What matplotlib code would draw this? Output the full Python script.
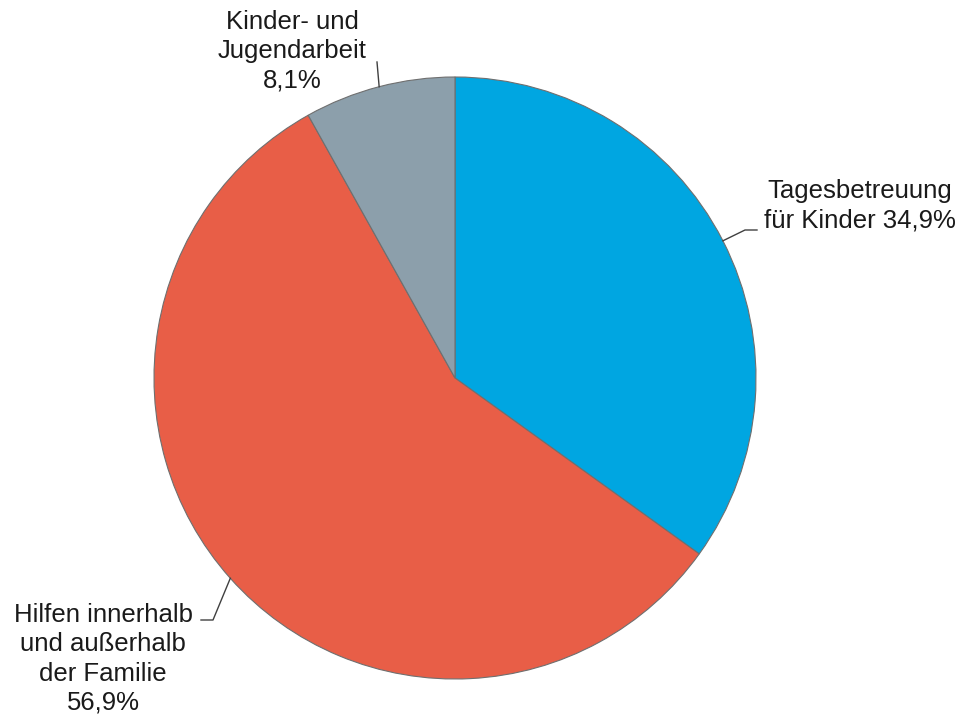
import numpy as np
import matplotlib.pyplot as plt

plt.rcParams['font.family'] = ['Liberation Sans', 'DejaVu Sans']

# Daten
kategorien = ['Tagesbetreuung\nfür Kinder 34,9%',
              'Hilfen innerhalb\nund außerhalb\nder Familie\n56,9%',
              'Kinder- und\nJugendarbeit\n8,1%']
anteile = [34.9, 56.9, 8.1]
farben = ['#00A6E1', '#E85E47', '#8C9FAB']

fig = plt.figure(figsize=(9.65, 7.2), dpi=100)
ax = fig.add_axes([0, 0, 1, 1])

mitte = (455, 342)
radius = 301
wedges, _ = ax.pie(anteile, colors=farben, startangle=90, counterclock=False,
                   center=mitte, radius=radius, frame=True,
                   wedgeprops=dict(edgecolor='#6f6f6f', linewidth=0.8))
ax.set_xlim(0, 965)
ax.set_ylim(0, 720)
ax.set_aspect('equal')
ax.axis('off')

# Beschriftungen: Textposition, Knickpunkt, Linienende
layout = [
    dict(text=(860, 720 - 206), knick=(745, 720 - 230), ende=(757, 720 - 230)),
    dict(text=(103, 720 - 659), knick=(213, 720 - 620), ende=(201, 720 - 620)),
    dict(text=(292, 720 - 51), knick=(377, 720 - 62), ende=(377, 720 - 62)),
]

for w, lab, lay in zip(wedges, kategorien, layout):
    theta = np.deg2rad((w.theta1 + w.theta2) / 2)
    px = mitte[0] + radius * np.cos(theta)
    py = mitte[1] + radius * np.sin(theta)
    ax.plot([px, lay['knick'][0], lay['ende'][0]],
            [py, lay['knick'][1], lay['ende'][1]],
            color='#404040', linewidth=1.0)
    ax.text(lay['text'][0], lay['text'][1], lab, ha='center', va='center',
            multialignment='center', fontsize=18.5, color='#1a1a1a',
            linespacing=1.28)

fig.savefig('out.png', dpi=100)
